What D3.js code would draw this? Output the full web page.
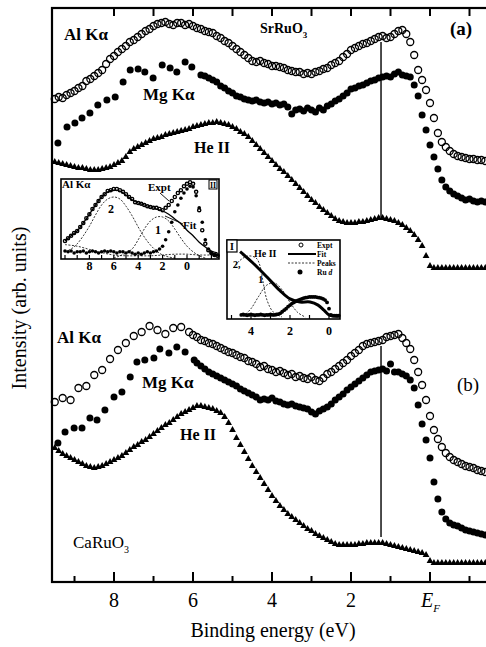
<!DOCTYPE html>
<html>
<head>
<meta charset="utf-8">
<script src="https://cdn.jsdelivr.net/npm/d3@7"></script>
<style>
body { margin: 0; background: #fff; }
svg text { fill: #000; }
</style>
</head>
<body>
<div id="chart"></div>
<script>
// ---- data: [binding energy (eV), intensity (arb. units)] ----
// SrRuO3 (a)
var alKaA = [[9.5,4.83],[9.4,4.85],[9.3,4.84],[9.2,4.87],[9.1,4.89],[9.0,4.91],[8.9,4.94],[8.8,4.96],[8.7,5.01],[8.6,5.03],[8.5,5.06],[8.4,5.09],[8.3,5.12],[8.2,5.18],[8.1,5.23],[8.0,5.26],[7.9,5.30],[7.8,5.33],[7.7,5.36],[7.6,5.40],[7.5,5.42],[7.4,5.45],[7.3,5.48],[7.2,5.51],[7.1,5.53],[7.0,5.56],[6.9,5.58],[6.8,5.59],[6.7,5.60],[6.6,5.58],[6.5,5.57],[6.4,5.59],[6.3,5.59],[6.2,5.57],[6.1,5.58],[6.0,5.56],[5.9,5.54],[5.8,5.53],[5.7,5.51],[5.6,5.50],[5.5,5.49],[5.4,5.46],[5.3,5.44],[5.2,5.41],[5.1,5.39],[5.0,5.36],[4.9,5.33],[4.8,5.30],[4.7,5.27],[4.6,5.24],[4.5,5.21],[4.4,5.20],[4.3,5.21],[4.2,5.19],[4.1,5.18],[4.0,5.16],[3.9,5.16],[3.8,5.15],[3.7,5.14],[3.6,5.12],[3.5,5.11],[3.4,5.10],[3.3,5.10],[3.2,5.08],[3.1,5.09],[3.0,5.08],[2.9,5.10],[2.8,5.11],[2.7,5.13],[2.6,5.14],[2.5,5.17],[2.4,5.19],[2.3,5.21],[2.2,5.25],[2.1,5.28],[2.0,5.32],[1.9,5.34],[1.8,5.36],[1.7,5.38],[1.6,5.39],[1.5,5.41],[1.4,5.43],[1.3,5.45],[1.2,5.46],[1.1,5.44],[1.0,5.45],[0.9,5.48],[0.8,5.51],[0.7,5.52],[0.6,5.48],[0.5,5.40],[0.4,5.27],[0.3,5.12],[0.2,5.02],[0.1,4.92],[0.0,4.79],[-0.1,4.64],[-0.2,4.49],[-0.3,4.40],[-0.4,4.35],[-0.5,4.31],[-0.6,4.28],[-0.7,4.26],[-0.8,4.25],[-0.9,4.24],[-1.0,4.23],[-1.1,4.23],[-1.2,4.22],[-1.3,4.22],[-1.4,4.21]];

var mgKaA = [[9.42,4.39],[9.19,4.55],[8.99,4.59],[8.81,4.64],[8.61,4.69],[8.41,4.77],[8.18,4.82],[7.97,4.85],[7.77,5.00],[7.59,5.12],[7.39,5.13],[7.22,5.10],[7.01,5.04],[6.78,5.17],[6.58,5.14],[6.41,5.10],[6.20,5.20],[6.03,5.15],
  [5.8,5.07],[5.7,5.06],[5.6,5.04],[5.5,5.02],[5.4,5.00],[5.3,4.96],[5.2,4.94],[5.1,4.91],[5.0,4.89],[4.9,4.86],[4.8,4.85],[4.7,4.83],[4.6,4.82],[4.5,4.81],[4.4,4.82],[4.3,4.80],[4.2,4.79],[4.1,4.80],[4.0,4.78],[3.9,4.79],[3.8,4.77],[3.7,4.78],[3.6,4.75],[3.5,4.68],[3.4,4.72],[3.3,4.73],[3.2,4.71],[3.1,4.74],[3.0,4.72],[2.9,4.70],[2.8,4.74],[2.7,4.72],[2.6,4.76],[2.5,4.78],[2.4,4.81],[2.3,4.83],[2.2,4.86],[2.1,4.89],[2.0,4.93],[1.9,4.94],[1.8,4.96],[1.7,4.97],[1.6,4.99],[1.5,5.01],[1.4,5.02],[1.3,5.04],[1.2,5.05],[1.1,5.06],[1.0,5.05],[0.9,5.08],[0.8,5.10],[0.7,5.07],[0.6,5.06],[0.5,5.05],[0.4,4.97],[0.3,4.86],[0.2,4.67],[0.1,4.52],[0.0,4.37],[-0.1,4.25],[-0.2,4.13],[-0.3,4.02],[-0.4,3.95],[-0.5,3.91],[-0.6,3.88],[-0.7,3.86],[-0.8,3.84],[-0.9,3.82],[-1.0,3.83],[-1.1,3.81],[-1.2,3.80],[-1.3,3.81],[-1.4,3.80]];

var heIIA = [[9.5,4.20],[9.4,4.19],[9.3,4.18],[9.2,4.17],[9.1,4.16],[9.0,4.15],[8.9,4.14],[8.8,4.14],[8.7,4.13],[8.6,4.12],[8.5,4.12],[8.4,4.12],[8.3,4.13],[8.2,4.14],[8.1,4.15],[8.0,4.17],[7.9,4.19],[7.8,4.21],[7.7,4.25],[7.6,4.30],[7.5,4.33],[7.4,4.35],[7.3,4.37],[7.2,4.39],[7.1,4.41],[7.0,4.43],[6.9,4.44],[6.8,4.45],[6.7,4.47],[6.6,4.48],[6.5,4.49],[6.4,4.50],[6.3,4.51],[6.2,4.52],[6.1,4.53],[6.0,4.55],[5.9,4.56],[5.8,4.57],[5.7,4.58],[5.6,4.59],[5.5,4.59],[5.4,4.60],[5.3,4.59],[5.2,4.58],[5.1,4.57],[5.0,4.55],[4.9,4.53],[4.8,4.50],[4.7,4.48],[4.6,4.45],[4.5,4.41],[4.4,4.37],[4.3,4.33],[4.2,4.29],[4.1,4.25],[4.0,4.21],[3.9,4.17],[3.8,4.13],[3.7,4.10],[3.6,4.06],[3.5,4.02],[3.4,3.98],[3.3,3.94],[3.2,3.90],[3.1,3.86],[3.0,3.82],[2.9,3.79],[2.8,3.75],[2.7,3.72],[2.6,3.69],[2.5,3.66],[2.4,3.63],[2.3,3.61],[2.2,3.60],[2.1,3.59],[2.0,3.59],[1.9,3.59],[1.8,3.60],[1.7,3.60],[1.6,3.61],[1.5,3.62],[1.4,3.63],[1.3,3.64],[1.2,3.64],[1.1,3.63],[1.0,3.62],[0.9,3.61],[0.8,3.59],[0.7,3.57],[0.6,3.54],[0.5,3.51],[0.4,3.47],[0.3,3.42],[0.2,3.36],[0.1,3.26],[0.0,3.16],[-0.1,3.14],[-0.2,3.14],[-0.3,3.14],[-0.4,3.14],[-0.5,3.14],[-0.6,3.14],[-0.7,3.14],[-0.8,3.14],[-0.9,3.14],[-1.0,3.14],[-1.1,3.14],[-1.2,3.14],[-1.3,3.14],[-1.4,3.14]];

// CaRuO3 (b)
var alKaB = [[9.5,1.80],[9.3,1.84],[9.1,1.82],[8.9,1.94],[8.7,1.96],[8.5,2.07],[8.3,2.12],[8.1,2.23],[7.9,2.32],[7.7,2.39],[7.5,2.46],[7.3,2.50],[7.1,2.56],[6.9,2.52],[6.7,2.48],[6.5,2.54],[6.3,2.55],[6.1,2.50],
  [6.0,2.47],[5.9,2.45],[5.8,2.42],[5.7,2.41],[5.6,2.39],[5.5,2.38],[5.4,2.36],[5.3,2.34],[5.2,2.32],[5.1,2.30],[5.0,2.29],[4.9,2.27],[4.8,2.25],[4.7,2.24],[4.6,2.21],[4.5,2.20],[4.4,2.18],[4.3,2.15],[4.2,2.16],[4.1,2.13],[4.0,2.12],[3.9,2.10],[3.8,2.11],[3.7,2.09],[3.6,2.07],[3.5,2.08],[3.4,2.05],[3.3,2.06],[3.2,2.04],[3.1,2.03],[3.0,2.05],[2.9,2.02],[2.8,2.01],[2.7,2.04],[2.6,2.08],[2.5,2.10],[2.4,2.13],[2.3,2.16],[2.2,2.19],[2.1,2.22],[2.0,2.26],[1.9,2.29],[1.8,2.32],[1.7,2.36],[1.6,2.38],[1.5,2.39],[1.4,2.40],[1.3,2.41],[1.2,2.42],[1.1,2.45],[1.0,2.46],[0.9,2.47],[0.8,2.48],[0.7,2.44],[0.6,2.39],[0.5,2.33],[0.4,2.22],[0.3,2.10],[0.2,1.97],[0.1,1.82],[0.0,1.66],[-0.1,1.52],[-0.2,1.43],[-0.3,1.35],[-0.4,1.29],[-0.5,1.25],[-0.6,1.22],[-0.7,1.20],[-0.8,1.18],[-0.9,1.16],[-1.0,1.15],[-1.1,1.14],[-1.2,1.12],[-1.3,1.11],[-1.4,1.10]];

var mgKaB = [[9.42,1.39],[9.24,1.50],[9.01,1.54],[8.81,1.54],[8.61,1.64],[8.43,1.62],[8.23,1.72],[8.00,1.85],[7.80,1.90],[7.59,2.05],[7.42,2.20],[7.22,2.22],[6.99,2.24],[6.84,2.33],[6.61,2.29],[6.41,2.35],[6.20,2.30],[5.97,2.22],
  [5.9,2.19],[5.8,2.16],[5.7,2.13],[5.6,2.10],[5.5,2.08],[5.4,2.06],[5.3,2.04],[5.2,2.02],[5.1,2.00],[5.0,1.98],[4.9,1.96],[4.8,1.93],[4.7,1.91],[4.6,1.89],[4.5,1.87],[4.4,1.85],[4.3,1.82],[4.2,1.83],[4.1,1.82],[4.0,1.84],[3.9,1.81],[3.8,1.80],[3.7,1.78],[3.6,1.77],[3.5,1.78],[3.4,1.76],[3.3,1.75],[3.2,1.74],[3.1,1.73],[3.0,1.70],[2.9,1.68],[2.8,1.71],[2.7,1.73],[2.6,1.75],[2.5,1.78],[2.4,1.82],[2.3,1.85],[2.2,1.88],[2.1,1.92],[2.0,1.95],[1.9,1.98],[1.8,2.01],[1.7,2.04],[1.6,2.07],[1.5,2.10],[1.4,2.11],[1.3,2.12],[1.2,2.13],[1.1,2.11],[1.0,2.18],[0.9,2.10],[0.8,2.10],[0.7,2.08],[0.6,2.06],[0.5,2.02],[0.4,1.94],[0.3,1.77],[0.2,1.58],[0.1,1.42],[0.0,1.24],[-0.1,1.00],[-0.2,0.83],[-0.3,0.70],[-0.4,0.63],[-0.5,0.59],[-0.6,0.57],[-0.7,0.56],[-0.8,0.54],[-0.9,0.52],[-1.0,0.51],[-1.1,0.50],[-1.2,0.49],[-1.3,0.48],[-1.4,0.47]];

var heIIB = [[9.5,1.34],[9.4,1.31],[9.3,1.28],[9.2,1.26],[9.1,1.24],[9.0,1.22],[8.9,1.20],[8.8,1.18],[8.7,1.16],[8.6,1.15],[8.5,1.14],[8.4,1.15],[8.3,1.16],[8.2,1.18],[8.1,1.20],[8.0,1.22],[7.9,1.24],[7.8,1.26],[7.7,1.29],[7.6,1.32],[7.5,1.35],[7.4,1.37],[7.3,1.40],[7.2,1.42],[7.1,1.45],[7.0,1.48],[6.9,1.51],[6.8,1.54],[6.7,1.57],[6.6,1.59],[6.5,1.62],[6.4,1.65],[6.3,1.68],[6.2,1.70],[6.1,1.72],[6.0,1.74],[5.9,1.76],[5.8,1.76],[5.7,1.75],[5.6,1.74],[5.5,1.73],[5.4,1.71],[5.3,1.69],[5.2,1.65],[5.1,1.59],[5.0,1.52],[4.9,1.44],[4.8,1.37],[4.7,1.30],[4.6,1.23],[4.5,1.16],[4.4,1.10],[4.3,1.04],[4.2,0.98],[4.1,0.92],[4.0,0.86],[3.9,0.81],[3.8,0.76],[3.7,0.72],[3.6,0.68],[3.5,0.65],[3.4,0.62],[3.3,0.59],[3.2,0.56],[3.1,0.53],[3.0,0.51],[2.9,0.48],[2.8,0.46],[2.7,0.44],[2.6,0.42],[2.5,0.40],[2.4,0.38],[2.3,0.37],[2.2,0.37],[2.1,0.37],[2.0,0.37],[1.9,0.37],[1.8,0.38],[1.7,0.38],[1.6,0.39],[1.5,0.39],[1.4,0.39],[1.3,0.39],[1.2,0.39],[1.1,0.38],[1.0,0.37],[0.9,0.36],[0.8,0.35],[0.7,0.34],[0.6,0.33],[0.5,0.32],[0.4,0.31],[0.3,0.30],[0.2,0.29],[0.1,0.27],[0.0,0.21],[-0.1,0.19],[-0.2,0.19],[-0.3,0.19],[-0.4,0.19],[-0.5,0.19],[-0.6,0.19],[-0.7,0.19],[-0.8,0.19],[-0.9,0.19],[-1.0,0.19],[-1.1,0.19],[-1.2,0.19],[-1.3,0.19],[-1.4,0.19]];

// vertical markers at 1.24 eV: [energy, top, bottom]
var markerLines = [[1.24, 5.40, 3.65], [1.24, 2.36, 0.45]];

// axis ticks
var bottomTicks = [9, 8, 7, 6, 5, 4, 3, 2, 1, 0, -1];
var topTicks = [8, 7, 6, 5, 4, 3, 2, 1, 0, -1];
var tickLabels = [8, 6, 4, 2];

// inset II: Al Ka fit (relative intensity)
var insAlExpt = [[10,0.225],[9.75,0.26],[9.5,0.29],[9.25,0.325],[9,0.35],[8.75,0.40],[8.5,0.45],[8.25,0.51],[8,0.56],[7.75,0.625],[7.5,0.675],[7.25,0.725],[7,0.775],[6.75,0.81],[6.5,0.85],[6.25,0.86],[6,0.875],[5.75,0.875],[5.5,0.86],[5.25,0.84],[5,0.81],[4.75,0.775],[4.5,0.75],[4.25,0.71],[4,0.70],[3.75,0.69],[3.5,0.675],[3.25,0.66],[3,0.65],[2.75,0.64],[2.5,0.64],[2.25,0.625],[2,0.61],[1.75,0.64],[1.5,0.675],[1.25,0.725],[1,0.775],[0.75,0.825],[0.5,0.86],[0.25,0.91],[0,0.94],[-0.25,0.96],[-0.5,0.94],[-0.75,0.84],[-1,0.61],[-1.25,0.36],[-1.5,0.19],[-1.75,0.11],[-2,0.075],[-2.25,0.05],[-2.5,0.04]];
var insAlRuD = [[10,0.10],[9.75,0.09],[9.5,0.10],[9.25,0.075],[9,0.09],[8.75,0.09],[8.5,0.10],[8.25,0.075],[8,0.09],[7.75,0.10],[7.5,0.09],[7.25,0.075],[7,0.09],[6.75,0.10],[6.5,0.09],[6.25,0.10],[6,0.09],[5.75,0.075],[5.5,0.09],[5.25,0.09],[5,0.075],[4.75,0.09],[4.5,0.075],[4.25,0.06],[4,0.075],[3.75,0.06],[3.5,0.075],[3.25,0.09],[3,0.075],[2.75,0.09],[2.5,0.10],[2.25,0.125],[2,0.16],[1.75,0.24],[1.5,0.34],[1.25,0.46],[1,0.59],[0.75,0.675],[0.5,0.76],[0.25,0.825],[0,0.875],[-0.25,0.91],[-0.5,0.90],[-0.75,0.79],[-1,0.64],[-1.25,0.46],[-1.5,0.24],[-1.75,0.125],[-2,0.075],[-2.25,0.05],[-2.5,0.05]];
var insAlFit = [[10,0.225],[9.5,0.29],[9,0.35],[8.5,0.45],[8,0.56],[7.5,0.675],[7,0.775],[6.5,0.84],[6,0.86],[5.5,0.85],[5,0.80],[4.5,0.74],[4,0.70],[3.5,0.675],[3,0.65],[2.5,0.625],[2,0.60],[1.5,0.56],[1,0.50],[0.5,0.44],[0,0.36],[-0.5,0.29],[-1,0.21],[-1.5,0.15],[-2,0.10],[-2.5,0.075]];
var insAlPeak2 = [[10,0.09],[9.5,0.125],[9,0.19],[8.5,0.29],[8,0.41],[7.5,0.55],[7,0.675],[6.5,0.75],[6,0.775],[5.5,0.75],[5,0.66],[4.5,0.54],[4,0.40],[3.5,0.275],[3,0.175],[2.5,0.10],[2,0.05],[1.5,0.025],[1,0.0125]];
var insAlPeak1 = [[6,0.0125],[5.5,0.04],[5,0.075],[4.5,0.125],[4,0.24],[3.5,0.375],[3,0.475],[2.5,0.525],[2,0.525],[1.5,0.475],[1,0.375],[0.5,0.26],[0,0.16],[-0.5,0.09],[-1,0.04],[-1.5,0.0125]];
var insAlBg = [[10,0.18],[9,0.16],[8,0.12],[7,0.08],[6,0.05],[5,0.04],[4,0.04],[3,0.04],[2,0.05],[1,0.06],[0,0.06],[-1,0.05],[-2,0.05],[-2.5,0.05]];
var insAlTicks = [10, 9, 8, 7, 6, 5, 4, 3, 2, 1, 0, -1, -2];
var insAlLabels = [8, 6, 4, 2, 0];

// inset I: He II fit
var insHeFit = [[4.56,0.85],[3.9,0.705],[3.18,0.525],[2.51,0.35],[2.0,0.245],[1.49,0.205],[0.97,0.205],[0.56,0.165],[0.26,0.10],[0,0.04],[-0.3,0.025],[-0.56,0.025]];
var insHePeak2 = [[4.92,0.64],[4.56,0.74],[4.15,0.795],[3.74,0.77],[3.54,0.67],[3.38,0.46],[3.18,0.23],[2.87,0.08],[2.41,0.013]];
var insHePeak1 = [[4.4,0.02],[4.0,0.12],[3.6,0.28],[3.2,0.42],[2.8,0.45],[2.4,0.36],[2.0,0.2],[1.6,0.07],[1.2,0.01]];
var insHeRuD = [[4.5,0.04],[4.4,0.045],[4.3,0.04],[4.2,0.035],[4.1,0.04],[4.0,0.045],[3.9,0.04],[3.8,0.035],[3.7,0.04],[3.6,0.04],[3.5,0.045],[3.4,0.04],[3.3,0.035],[3.2,0.04],[3.1,0.04],[3.0,0.045],[2.9,0.04],[2.8,0.04],[2.7,0.045],[2.6,0.05],[2.5,0.06],[2.4,0.08],[2.3,0.10],[2.2,0.12],[2.1,0.145],[2.0,0.165],[1.9,0.185],[1.8,0.20],[1.7,0.215],[1.6,0.225],[1.5,0.235],[1.4,0.245],[1.3,0.255],[1.2,0.26],[1.1,0.265],[1.0,0.27],[0.9,0.27],[0.8,0.27],[0.7,0.27],[0.6,0.265],[0.5,0.26],[0.4,0.255],[0.3,0.245],[0.2,0.23],[0.1,0.20],[0.0,0.12],[-0.1,0.04],[-0.2,0.03],[-0.3,0.03],[-0.4,0.03],[-0.5,0.03]];
var insHeTicks = [5, 4, 3, 2, 1, 0];
var insHeLabels = [4, 2, 0];

// ---- chart ----
var width = 486,
    height = 647;

var svg = d3.select("#chart").append("svg")
    .attr("width", width)
    .attr("height", height)
    .attr("font-family", "'Liberation Serif', 'DejaVu Serif', 'Noto Serif', Tinos, Times, serif");

var x = d3.scaleLinear().domain([9.57, -1.6]).range([52, 493.2]);
var y = d3.scaleLinear().domain([0, 5.74]).range([582, 8]);

function openCircles(g, data, sx, sy, r, sw) {
    g.append("g").selectAll("circle")
        .data(data)
        .enter().append("circle")
        .attr("cx", function(d) { return sx(d[0]); })
        .attr("cy", function(d) { return sy(d[1]); })
        .attr("r", r)
        .attr("fill", "none")
        .attr("stroke", "#000")
        .attr("stroke-width", sw);
}

function dots(g, data, sx, sy, r) {
    g.append("g").selectAll("circle")
        .data(data)
        .enter().append("circle")
        .attr("cx", function(d) { return sx(d[0]); })
        .attr("cy", function(d) { return sy(d[1]); })
        .attr("r", r)
        .attr("fill", "#000");
}

function triangles(g, data) {
    var sym = d3.symbol().type(d3.symbolTriangle).size(20);
    g.append("g").selectAll("path")
        .data(data)
        .enter().append("path")
        .attr("d", sym)
        .attr("transform", function(d) { return "translate(" + x(d[0]) + "," + y(d[1]) + ")"; })
        .attr("fill", "#000");
}

function curve(g, data, sx, sy, w, dash) {
    var line = d3.line()
        .x(function(d) { return sx(d[0]); })
        .y(function(d) { return sy(d[1]); })
        .curve(d3.curveCatmullRom);
    var p = g.append("path")
        .datum(data)
        .attr("d", line)
        .attr("fill", "none")
        .attr("stroke", "#000")
        .attr("stroke-width", w);
    if (dash) p.attr("stroke-dasharray", dash);
}

// marker lines
svg.selectAll(".vline")
    .data(markerLines)
    .enter().append("line")
    .attr("class", "vline")
    .attr("x1", function(d) { return x(d[0]); })
    .attr("x2", function(d) { return x(d[0]); })
    .attr("y1", function(d) { return y(d[1]); })
    .attr("y2", function(d) { return y(d[2]); })
    .attr("stroke", "#000")
    .attr("stroke-width", 1.4);

// spectra
openCircles(svg, alKaA, x, y, 3.5, 1.3);
dots(svg, mgKaA, x, y, 3.5);
triangles(svg, heIIA);
openCircles(svg, alKaB, x, y, 3.5, 1.3);
dots(svg, mgKaB, x, y, 3.5);
triangles(svg, heIIB);

// frame
svg.append("rect")
    .attr("x", x(9.57)).attr("y", y(5.74))
    .attr("width", x(-1.6) - x(9.57)).attr("height", y(0) - y(5.74))
    .attr("fill", "none").attr("stroke", "#000").attr("stroke-width", 2.2);

svg.selectAll(".btick")
    .data(bottomTicks)
    .enter().append("line")
    .attr("x1", function(d) { return x(d); })
    .attr("x2", function(d) { return x(d); })
    .attr("y1", y(0))
    .attr("y2", function(d) { return y(0) - (d % 2 === 0 ? 10 : 6); })
    .attr("stroke", "#000").attr("stroke-width", 2);

svg.selectAll(".ttick")
    .data(topTicks)
    .enter().append("line")
    .attr("x1", function(d) { return x(d); })
    .attr("x2", function(d) { return x(d); })
    .attr("y1", y(5.74))
    .attr("y2", y(5.74) + 8)
    .attr("stroke", "#000").attr("stroke-width", 2);

svg.selectAll(".tlab")
    .data(tickLabels)
    .enter().append("text")
    .attr("x", function(d) { return x(d); })
    .attr("y", 607)
    .attr("text-anchor", "middle")
    .attr("font-size", 20)
    .text(function(d) { return d; });

var ef = svg.append("text").attr("x", x(0) - 9).attr("y", 607)
    .attr("font-size", 20).attr("font-style", "italic");
ef.append("tspan").text("E");
ef.append("tspan").attr("dy", 5).attr("font-size", 11).text("F");

svg.append("text")
    .attr("x", 273).attr("y", 637)
    .attr("text-anchor", "middle")
    .attr("font-size", 20)
    .text("Binding energy (eV)");

svg.append("text")
    .attr("transform", "translate(26,308) rotate(-90)")
    .attr("text-anchor", "middle")
    .attr("font-size", 20)
    .text("Intensity (arb. units)");

// labels
function label(t, px, py, size, weight) {
    return svg.append("text").attr("x", px).attr("y", py)
        .attr("font-size", size).attr("font-weight", weight || "bold").text(t);
}
label("Al K\u03b1", 64, 40, 17);
label("Mg K\u03b1", 143, 100, 17);
label("He II", 194, 153, 16);
label("(a)", 450, 35, 19);
label("Al K\u03b1", 57, 343, 17);
label("Mg K\u03b1", 142, 388, 17);
label("He II", 180, 440, 16);
label("(b)", 457, 391, 19, "normal");

var sr = svg.append("text").attr("x", 260).attr("y", 33).attr("font-size", 14).attr("font-weight", "bold");
sr.append("tspan").text("SrRuO");
sr.append("tspan").attr("dy", 5).attr("font-size", 9).text("3");
var ca = svg.append("text").attr("x", 73).attr("y", 548).attr("font-size", 17);
ca.append("tspan").text("CaRuO");
ca.append("tspan").attr("dy", 5).attr("font-size", 10).text("3");

// ---- inset II (Al Ka) ----
var ix2 = d3.scaleLinear().domain([0, 8]).range([187, 89.4]);
var iy2 = d3.scaleLinear().domain([0, 1]).range([259, 179]);
var g2 = svg.append("g");
g2.append("rect").attr("x", 61).attr("y", 179).attr("width", 158).attr("height", 80)
    .attr("fill", "#fff").attr("stroke", "#000").attr("stroke-width", 1.6);
g2.selectAll(".i2tick").data(insAlTicks).enter().append("line")
    .attr("x1", function(d) { return ix2(d); }).attr("x2", function(d) { return ix2(d); })
    .attr("y1", 259).attr("y2", 255).attr("stroke", "#000").attr("stroke-width", 1.2);
g2.selectAll(".i2lab").data(insAlLabels).enter().append("text")
    .attr("x", function(d) { return ix2(d); }).attr("y", 270)
    .attr("text-anchor", "middle").attr("font-size", 12).attr("font-weight", "bold")
    .text(function(d) { return d; });
curve(g2, insAlBg, ix2, iy2, 0.8, "2,1.5");
curve(g2, insAlPeak2, ix2, iy2, 0.8, "2,1.5");
curve(g2, insAlPeak1, ix2, iy2, 0.8, "2,1.5");
curve(g2, insAlFit, ix2, iy2, 1.3);
openCircles(g2, insAlExpt, ix2, iy2, 1.6, 1.4);
dots(g2, insAlRuD, ix2, iy2, 1.8);
g2.append("text").attr("x", 62).attr("y", 188).attr("font-size", 11).attr("font-weight", "bold").text("Al K\u03b1");
g2.append("text").attr("x", 148).attr("y", 191).attr("font-size", 11).attr("font-weight", "bold").text("Expt");
g2.append("line").attr("x1", 160).attr("y1", 193).attr("x2", 169).attr("y2", 201).attr("stroke", "#000").attr("stroke-width", 0.9);
g2.append("text").attr("x", 183).attr("y", 229).attr("font-size", 11).attr("font-weight", "bold").text("Fit");
g2.append("line").attr("x1", 165).attr("y1", 216).attr("x2", 183).attr("y2", 224).attr("stroke", "#000").attr("stroke-width", 0.9);
g2.append("text").attr("x", 108).attr("y", 213).attr("font-size", 12).attr("font-weight", "bold").text("2");
g2.append("text").attr("x", 155).attr("y", 234).attr("font-size", 12).attr("font-weight", "bold").text("1");
g2.append("rect").attr("x", 209).attr("y", 180).attr("width", 8).attr("height", 9)
    .attr("fill", "#fff").attr("stroke", "#000").attr("stroke-width", 1);
g2.append("text").attr("x", 213).attr("y", 187.5).attr("text-anchor", "middle").attr("font-size", 8).attr("font-weight", "bold").text("II");

// ---- inset I (He II) ----
var ix1 = d3.scaleLinear().domain([0, 4]).range([329, 251]);
var iy1 = d3.scaleLinear().domain([0, 1]).range([318, 240]);
var g1 = svg.append("g");
g1.append("rect").attr("x", 227).attr("y", 240).attr("width", 113).attr("height", 79)
    .attr("fill", "#fff").attr("stroke", "#000").attr("stroke-width", 1.6);
g1.selectAll(".i1tick").data(insHeTicks).enter().append("line")
    .attr("x1", function(d) { return ix1(d); }).attr("x2", function(d) { return ix1(d); })
    .attr("y1", 319).attr("y2", 315).attr("stroke", "#000").attr("stroke-width", 1.2);
g1.selectAll(".i1lab").data(insHeLabels).enter().append("text")
    .attr("x", function(d) { return ix1(d); }).attr("y", 335)
    .attr("text-anchor", "middle").attr("font-size", 12).attr("font-weight", "bold")
    .text(function(d) { return d; });
curve(g1, insHePeak2, ix1, iy1, 0.8, "2,1.5");
curve(g1, insHePeak1, ix1, iy1, 0.8, "2,1.5");
curve(g1, insHeFit, ix1, iy1, 3);
dots(g1, insHeRuD, ix1, iy1, 1.9);
g1.append("rect").attr("x", 227).attr("y", 240).attr("width", 10).attr("height", 12)
    .attr("fill", "#fff").attr("stroke", "#000").attr("stroke-width", 1.2);
g1.append("text").attr("x", 232).attr("y", 250).attr("text-anchor", "middle").attr("font-size", 10).attr("font-weight", "bold").text("I");
g1.append("text").attr("x", 254).attr("y", 257).attr("font-size", 10).attr("font-weight", "bold").text("He II");
g1.append("text").attr("x", 233).attr("y", 268).attr("font-size", 10).attr("font-weight", "bold").text("2,");
g1.append("text").attr("x", 258).attr("y", 283).attr("font-size", 11).attr("font-weight", "bold").text("1");
// legend
g1.append("circle").attr("cx", 301).attr("cy", 245).attr("r", 2).attr("fill", "none").attr("stroke", "#000");
g1.append("text").attr("x", 317).attr("y", 248).attr("font-size", 7.5).attr("font-weight", "bold").text("Expt");
g1.append("line").attr("x1", 288).attr("x2", 316).attr("y1", 254).attr("y2", 254).attr("stroke", "#000").attr("stroke-width", 2);
g1.append("text").attr("x", 317).attr("y", 257).attr("font-size", 7.5).attr("font-weight", "bold").text("Fit");
g1.append("line").attr("x1", 288).attr("x2", 316).attr("y1", 263).attr("y2", 263).attr("stroke", "#000").attr("stroke-width", 0.8).attr("stroke-dasharray", "2,1.5");
g1.append("text").attr("x", 317).attr("y", 266).attr("font-size", 7.5).attr("font-weight", "bold").text("Peaks");
g1.append("circle").attr("cx", 300).attr("cy", 272).attr("r", 2.5).attr("fill", "#000");
var rud = g1.append("text").attr("x", 317).attr("y", 275).attr("font-size", 7.5).attr("font-weight", "bold");
rud.append("tspan").text("Ru ");
rud.append("tspan").attr("font-style", "italic").text("d");
</script>
</body>
</html>
